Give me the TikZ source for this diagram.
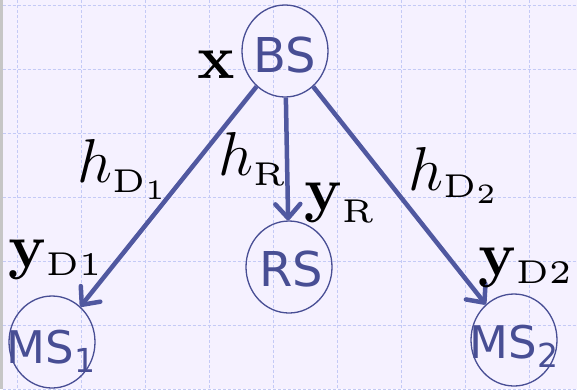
\RequirePackage{fix-cm}
\documentclass[tikz,border=0pt]{standalone}
\usepackage{fontspec}
\newfontfamily\dvs{DejaVu Sans}
\newfontfamily\lmbf{lmroman10-bold}[Extension=.otf]
\newfontfamily\lmfv{lmroman5-regular}[Extension=.otf]
\usetikzlibrary{shapes.geometric,arrows.meta}
\definecolor{bg}{RGB}{245,241,255}
\definecolor{gridc}{RGB}{196,202,246}
\definecolor{nodec}{RGB}{72,78,148}
\definecolor{arrc}{RGB}{80,88,160}
\tikzset{
  stn/.style={ellipse, draw=nodec, line width=1.3pt, minimum width=86pt, minimum height=92pt,
    inner sep=0pt},
  stt/.style={anchor=base, inner sep=0pt, text=nodec, font=\dvs\fontsize{48}{50}\selectfont},
  mst/.style={stt, font=\dvs\fontsize{45}{47}\selectfont},
  arr/.style={draw=arrc, line width=4.5pt, -{Straight Barb[length=14pt,width=25pt,round]}},
  lbl/.style={anchor=base west, inner sep=0pt, font=\fontsize{62}{70}\selectfont},
  gridl/.style={draw=gridc, line width=1pt, dash pattern=on 3pt off 2pt}
}
\newcommand{\subdig}[1]{\raisebox{-9pt}{\fontsize{33}{34}\selectfont #1}}
% subscript and sub-subscript helpers
\newcommand{\sbx}[2]{\raisebox{-#1}{\lmfv\fontsize{33}{36}\selectfont #2}}
\newcommand{\ssbx}[2]{\raisebox{-#1}{\lmfv\fontsize{28}{30}\selectfont #2}}
\newcommand{\bfv}[1]{{\lmbf #1}}
\begin{document}
\begin{tikzpicture}[x=1pt,y=-1pt]
  \useasboundingbox (0,0) rectangle (577,389);
  \fill[bg] (0,0) rectangle (577,389);
  \fill[gray!45] (0,0) rectangle (2.5,389);
  \foreach \gx in {17,81,...,529} \draw[gridl] (\gx,0) -- (\gx,389);
  \foreach \gy in {5,69,...,389} \draw[gridl] (2.5,\gy) -- (577,\gy);

  \node[stn] (BS) at (285,51) {};
  \node[stn] (RS) at (289,267) {};
  \node[stn] (MS1) at (52,342) {};
  \node[stn] (MS2) at (514,340) {};
  \node[stt] (BSt) at ([yshift=-21pt]BS.center) {BS};
  \node[stt] (RSt) at ([xshift=2pt,yshift=-19pt]RS.center) {RS};
  \node[mst] (MS1t) at ([xshift=-1pt,yshift=-21pt]MS1.center) {MS\subdig{1}};
  \node[mst] (MS2t) at ([yshift=-18pt]MS2.center) {MS\subdig{2}};

  \draw[arr] (BS) -- (MS1);
  \draw[arr] (BS) -- (RS);
  \draw[arr] (BS) -- (MS2);

  \node[lbl] (lx) at (197,78) {\bfv{x}};
  \node[lbl] (lhd1) at (77,182) {$h$\sbx{10pt}{D\ssbx{7pt}{1}}};
  \node[lbl] (lhr) at (218,175) {$h$\sbx{10pt}{R}};
  \node[lbl] (lyr) at (304,210) {\bfv{y}\sbx{12pt}{R}};
  \node[lbl] (lhd2) at (408,190) {$h$\sbx{7pt}{D\ssbx{6pt}{2}}};
  \node[lbl] (lyd1) at (8,267) {\bfv{y}\sbx{8pt}{D1}};
  \node[lbl] (lyd2) at (478,275) {\bfv{y}\sbx{8pt}{D2}};
\end{tikzpicture}
\end{document}
